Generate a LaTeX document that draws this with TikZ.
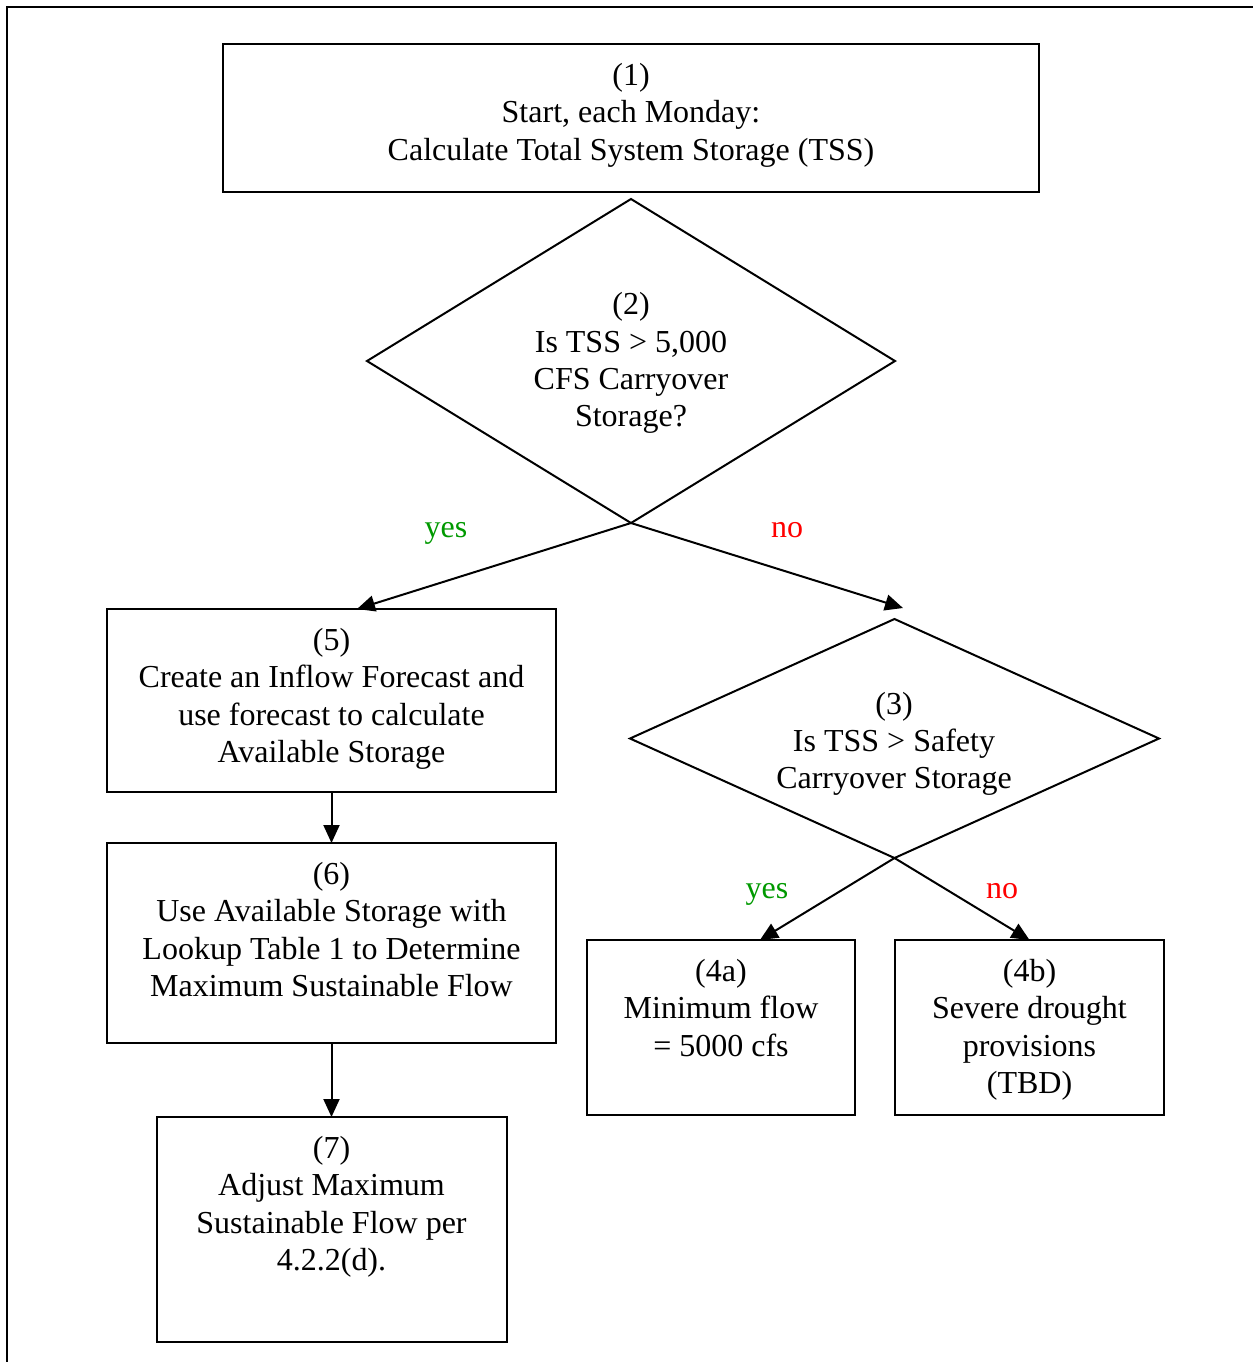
\documentclass[tikz,border=0pt]{standalone}
\usepackage{fontspec}
\setmainfont{Liberation Serif}
\usepackage{xcolor}
\definecolor{yesgreen}{HTML}{009900}
\definecolor{nored}{HTML}{FF0000}
\usetikzlibrary{shapes.geometric,arrows.meta}

\tikzset{
  stepbox/.style={draw, line width=1pt, inner sep=0pt, outer sep=0pt},
  decision/.style={draw, diamond, line width=1pt, inner sep=0pt, outer sep=0pt},
  steptext/.style={anchor=north, align=center, inner sep=0pt, yshift=-9.5pt},
  flow/.style={line width=1pt, -{Triangle[length=9pt,width=8pt]}},
  answer/.style={anchor=base, inner sep=0pt}
}

\begin{document}
\begin{tikzpicture}[x=0.5pt,y=-0.5pt,font=\fontsize{16}{18.6}\selectfont]
  \useasboundingbox (0,0) rectangle (1253,1362);
  % frame
  \draw[line width=0.8pt] (7,1362) -- (7,7) -- (1253,7);
  % boxes
  \node[stepbox, minimum width=408pt, minimum height=74pt] (b1) at (631,118) {};
  \node[stepbox, minimum width=224.5pt, minimum height=91.5pt] (b5) at (331.5,700.5) {};
  \node[stepbox, minimum width=224.5pt, minimum height=100pt] (b6) at (331.5,943) {};
  \node[stepbox, minimum width=175pt, minimum height=112.5pt] (b7) at (331.5,1229.5) {};
  \node[stepbox, minimum width=134pt, minimum height=87.5pt] (b4a) at (721,1027.5) {};
  \node[stepbox, minimum width=134.5pt, minimum height=87.5pt] (b4b) at (1029.5,1027.5) {};
  % decisions
  \node[decision, minimum width=264pt, minimum height=162pt] (d2) at (631,361) {};
  \node[decision, minimum width=264.5pt, minimum height=119.5pt] (d3) at (894.5,738.5) {};
  % texts
  \node[steptext] (t1) at (b1.north) {(1)\\Start, each Monday:\\Calculate Total System Storage (TSS)};
  \node[steptext] (t5) at (b5.north) {(5)\\Create an Inflow Forecast and\\use forecast to calculate\\Available Storage};
  \node[steptext] (t6) at (b6.north) {(6)\\Use Available Storage with\\Lookup Table 1 to Determine\\Maximum Sustainable Flow};
  \node[steptext] (t7) at (b7.north) {(7)\\Adjust Maximum\\Sustainable Flow per\\4.2.2(d).};
  \node[steptext] (t4a) at (b4a.north) {(4a)\\Minimum flow\\= 5000 cfs};
  \node[steptext] (t4b) at (b4b.north) {(4b)\\Severe drought\\provisions\\(TBD)};
  \node[align=center, inner sep=0pt] (t2) at (631,363) {(2)\\Is TSS > 5,000\\CFS Carryover\\Storage?};
  \node[align=center, inner sep=0pt] (t3) at (894,744) {(3)\\Is TSS > Safety\\Carryover Storage};
  % arrow ends
  \coordinate (y5) at (357,609);
  \coordinate (n3) at (903,608);
  \coordinate (y4) at (760,940);
  % connectors
  \draw[flow] (d2.south) -- (y5);
  \draw[flow] (d2.south) -- (n3);
  \draw[flow] (b5.south) -- (b6.north);
  \draw[flow] (b6.south) -- (b7.north);
  \draw[flow] (d3.south) -- (y4);
  \draw[flow] (d3.south) -- (b4b.north);
  % answers
  \node[answer, text=yesgreen] (a2y) at (446,537) {yes};
  \node[answer, text=nored] (a2n) at (787,537) {no};
  \node[answer, text=yesgreen] (a3y) at (767,898) {yes};
  \node[answer, text=nored] (a3n) at (1002,898) {no};
\end{tikzpicture}
\end{document}
